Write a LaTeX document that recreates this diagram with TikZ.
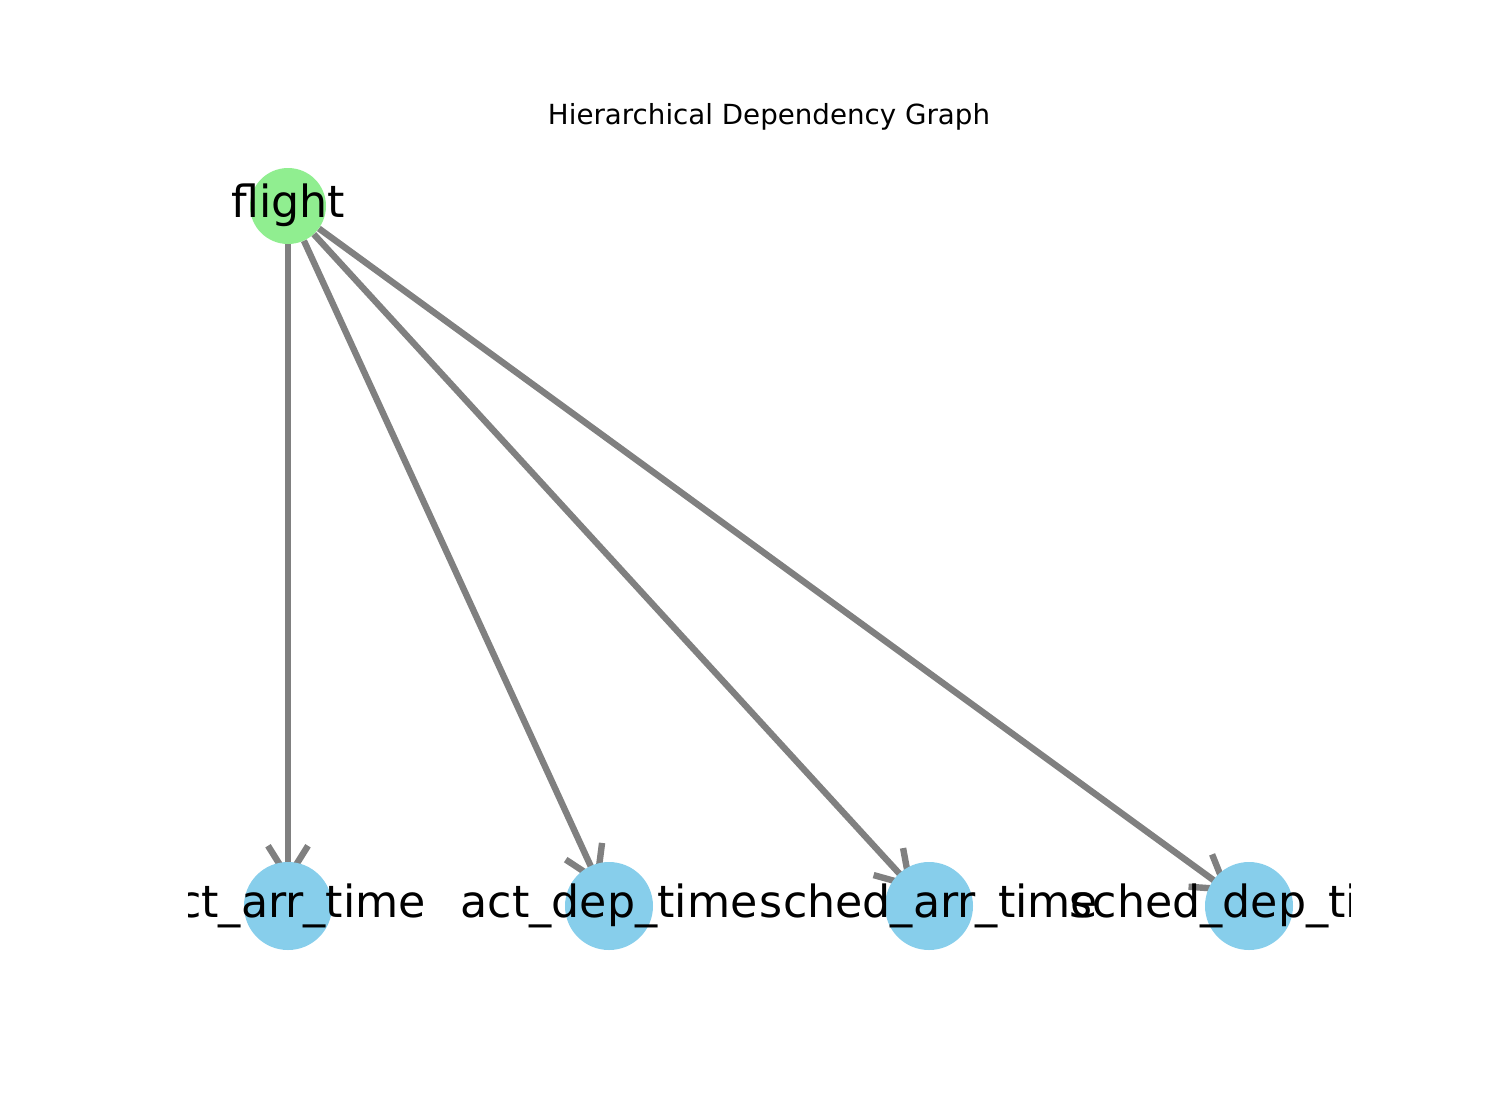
\documentclass[tikz,border=0pt]{standalone}
\usepackage{fontspec}
\setmainfont{DejaVu Sans}
\usetikzlibrary{arrows.meta,backgrounds}
\definecolor{nodegreen}{HTML}{90EE90}
\definecolor{nodeblue}{HTML}{87CEEB}
\definecolor{edgegray}{HTML}{808080}
\tikzset{
  rootnode/.style={circle,fill=nodegreen,draw=none,minimum size=76bp,inner sep=0pt},
  leafnode/.style={circle,fill=nodeblue,draw=none,minimum size=88bp,inner sep=0pt},
  lbl/.style={anchor=base,inner sep=0pt,font=\fontsize{44.3bp}{50bp}\selectfont},
  dep/.style={draw=edgegray,line width=6.4bp,shorten >=-22bp,
    -{Straight Barb[length=32bp,width=40bp]}},
  ttl/.style={anchor=base,inner sep=0pt,font=\fontsize{27.7bp}{32bp}\selectfont}
}
\begin{document}
\begin{tikzpicture}[x=1bp,y=-1bp]
\useasboundingbox (0,0) rectangle (1500,1100);
\node[ttl] (title) at (769,124) {Hierarchical Dependency Graph};
\node[rootnode] (f) at (288,206) {};
\node[leafnode] (n1) at (288,906) {};
\node[leafnode] (n2) at (609,906) {};
\node[leafnode] (n3) at (929,906) {};
\node[leafnode] (n4) at (1249,906) {};
\begin{scope}
\clip (188,132) rectangle (1350,979);
\node[lbl] (lf) at (288,217) {flight};
\node[lbl] (l1) at (288,917) {act\_arr\_time};
\node[lbl] (l2) at (609,917) {act\_dep\_time};
\node[lbl] (l3) at (929,917) {sched\_arr\_time};
\node[lbl] (l4) at (1249,917) {sched\_dep\_time};
\end{scope}
\begin{pgfonlayer}{background}
\draw[dep] (f) -- (n1);
\draw[dep] (f) -- (n2);
\draw[dep] (f) -- (n3);
\draw[dep] (f) -- (n4);
\end{pgfonlayer}
\end{tikzpicture}
\end{document}
